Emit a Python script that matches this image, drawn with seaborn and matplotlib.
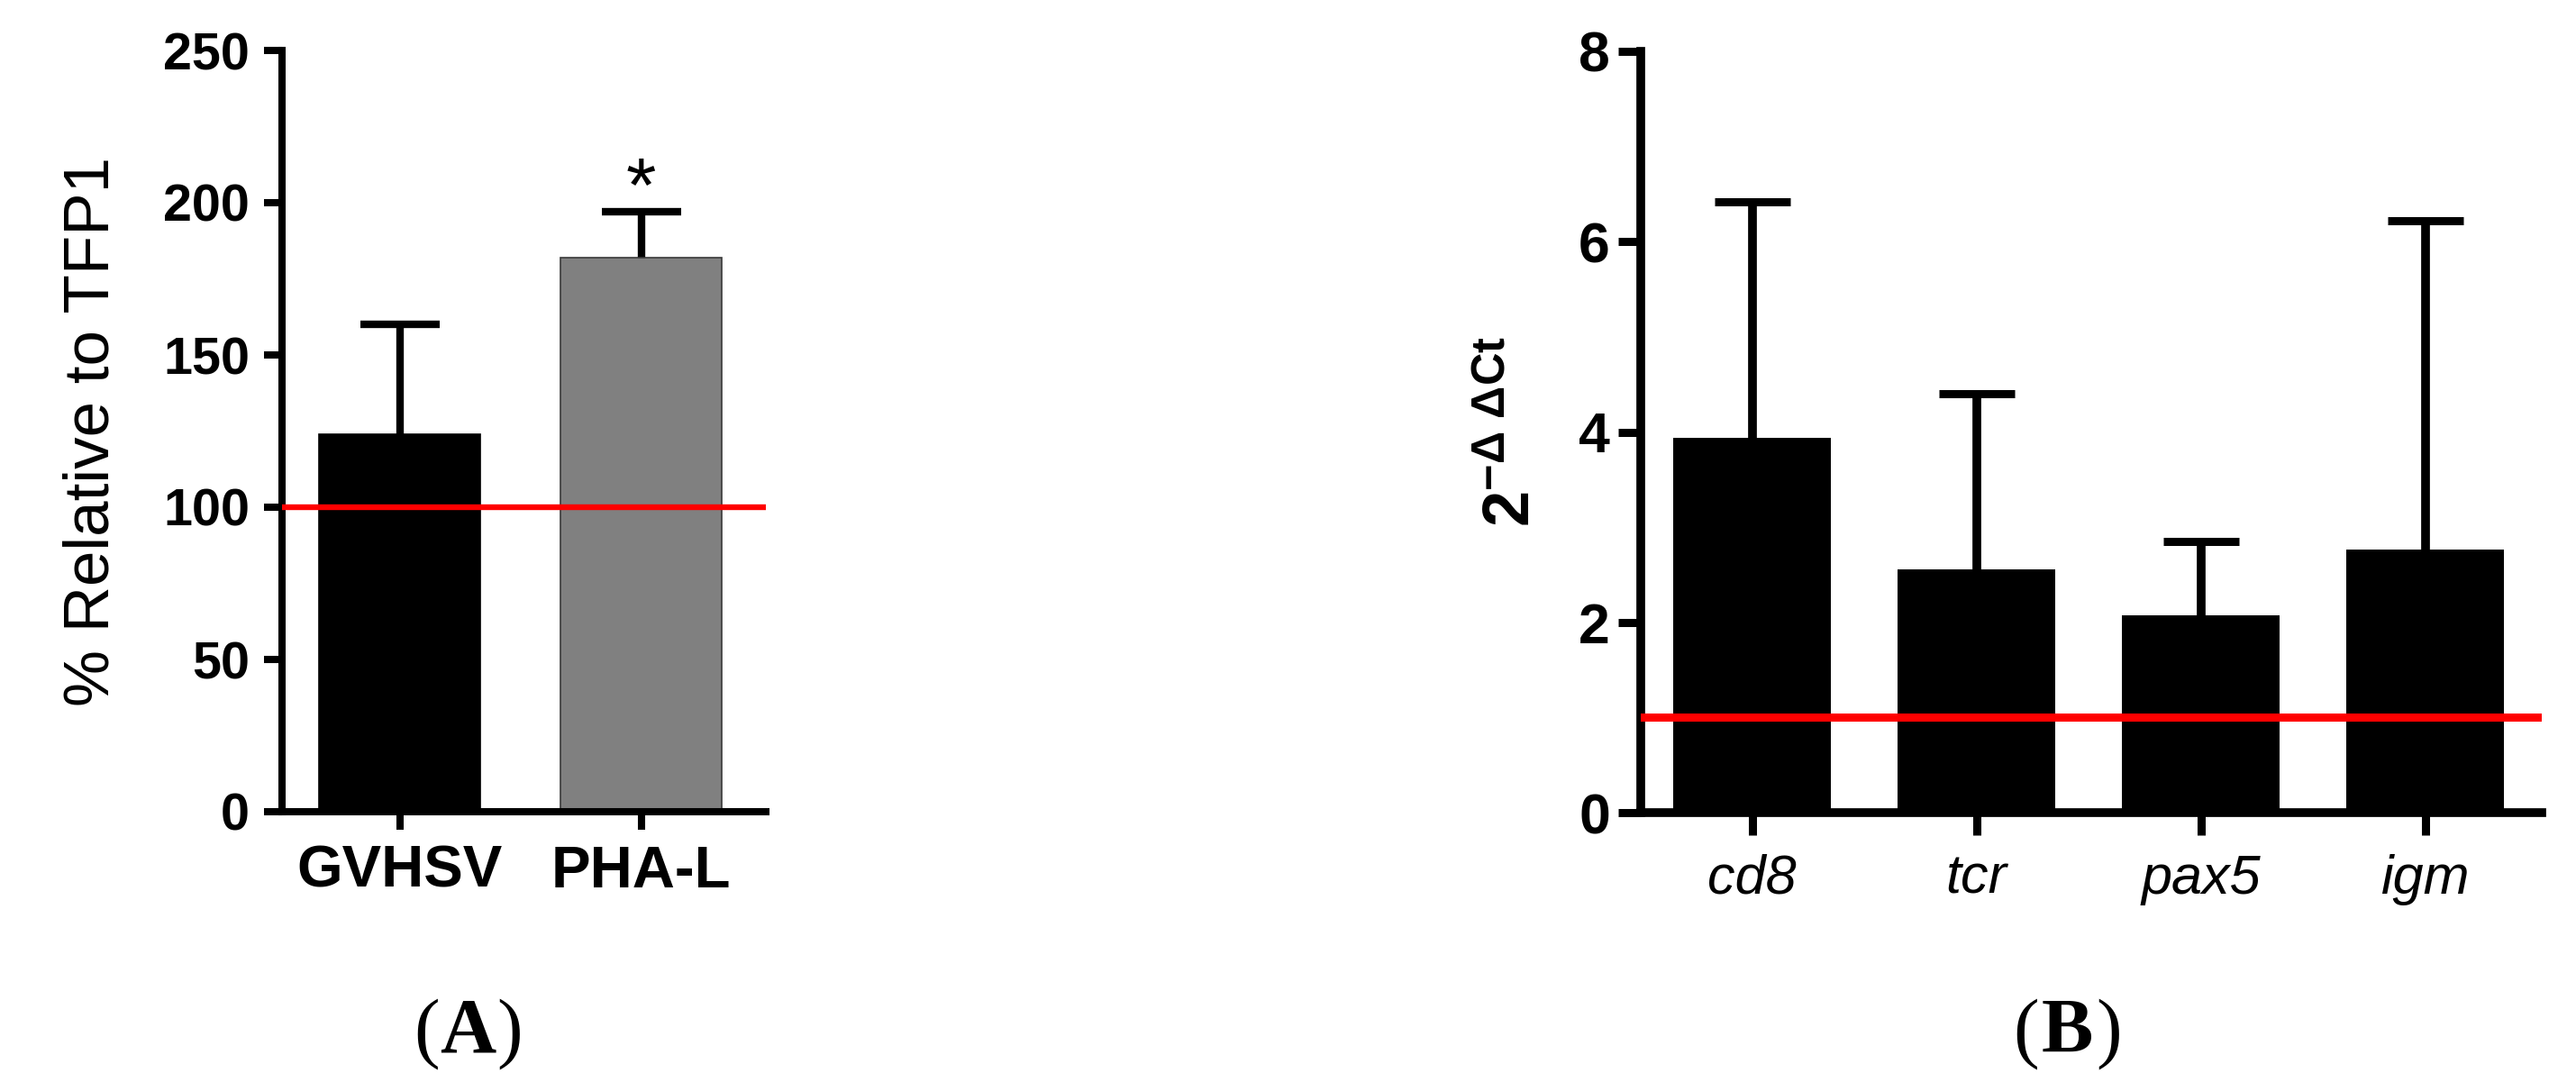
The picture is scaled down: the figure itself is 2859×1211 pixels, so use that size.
import matplotlib
matplotlib.use('Agg')
import matplotlib.pyplot as plt
import seaborn as sns
import pandas as pd
import numpy as np

# ---------------- Data ----------------
# Panel A
cats_a = ['GVHSV', 'PHA-L']
means_a = [124, 182]
err_a = [36, 15]
colors_a = ['#000000', '#808080']
edges_a = ['#000000', '#3a3a3a']
ref_a = 100
yticks_a = [0, 50, 100, 150, 200, 250]

# Panel B
cats_b = ['cd8', 'tcr', 'pax5', 'igm']
means_b = [3.94, 2.56, 2.07, 2.76]
err_b = [2.48, 1.84, 0.78, 3.46]
colors_b = ['#000000', '#000000', '#000000', '#000000']
ref_b = 1
yticks_b = [0, 2, 4, 6, 8]

# ---------------- Style ----------------
sns.set_style('ticks')
plt.rcParams['font.family'] = ['Liberation Sans', 'DejaVu Sans']
plt.rcParams['mathtext.fontset'] = 'custom'
plt.rcParams['mathtext.rm'] = 'Liberation Sans'
plt.rcParams['mathtext.bf'] = 'Liberation Sans:bold'
plt.rcParams['mathtext.it'] = 'Liberation Sans:italic'
for k in ['text.color', 'axes.labelcolor', 'xtick.color', 'ytick.color', 'axes.edgecolor']:
    plt.rcParams[k] = 'black'

W, H = 2859, 1211
fig = plt.figure(figsize=(W / 100, H / 100), dpi=100)
fig.patch.set_facecolor('white')

axA = fig.add_axes([313 / W, (H - 901) / H, (850 - 313) / W, (901 - 56) / H])
axB = fig.add_axes([1821 / W, (H - 902) / H, (2821 - 1821) / W, (902 - 57) / H])


def upper_errorbars(ax, means, errs, lw, capsize, capthick):
    cont = ax.errorbar(np.arange(len(means)), means,
                       yerr=[np.zeros(len(errs)), errs],
                       fmt='none', ecolor='black', elinewidth=lw,
                       capsize=capsize, capthick=capthick, zorder=1)
    caps = cont[1]
    # keep only the upper caps
    caps[0].remove()


# ---------------- Panel A ----------------
dfA = pd.DataFrame({'cat': cats_a, 'val': means_a})
sns.barplot(data=dfA, x='cat', y='val', hue='cat', palette=colors_a,
            width=0.668, errorbar=None, legend=False, ax=axA,
            saturation=1, linewidth=1.2)
for p, ec in zip(axA.patches, edges_a):
    p.set_edgecolor(ec)
    p.set_zorder(2)
upper_errorbars(axA, means_a, err_a, 6, 32, 6)
axA.axhline(ref_a, color='#ff0000', lw=4.6, zorder=4)
axA.text(1, 197, '*', ha='center', va='baseline', fontsize=62, color='black')

axA.set_ylim(0, 250)
axA.set_xlim(-0.488, 1.516)
axA.set_yticks(yticks_a)
axA.set_xlabel('')
axA.set_ylabel('% Relative to TFP1', fontsize=51, color='black')
axA.yaxis.set_label_coords(-0.331, 0.5)
axA.tick_params(axis='both', direction='out', length=14.4, width=5.8,
                color='black', labelcolor='black')
axA.tick_params(axis='y', labelsize=41.4, pad=11.5)
axA.tick_params(axis='x', labelsize=47, pad=12)
for lbl in axA.get_xticklabels() + axA.get_yticklabels():
    lbl.set_fontweight('bold')
sns.despine(ax=axA)
for s in ['left', 'bottom']:
    axA.spines[s].set_linewidth(5.8)
    axA.spines[s].set_color('black')

# ---------------- Panel B ----------------
dfB = pd.DataFrame({'cat': cats_b, 'val': means_b})
sns.barplot(data=dfB, x='cat', y='val', hue='cat', palette=colors_b,
            width=0.70, errorbar=None, legend=False, ax=axB,
            saturation=1, linewidth=0)
for p in axB.patches:
    p.set_zorder(2)
upper_errorbars(axB, means_b, err_b, 7, 30, 6.5)
axB.axhline(ref_b, color='#ff0000', lw=6.5, zorder=4)

axB.set_ylim(0, 8)
axB.set_xlim(-0.496, 3.52)
axB.set_yticks(yticks_b)
axB.set_xlabel('')
axB.set_ylabel(r'$\mathbf{2^{-\Delta\ \Delta Ct}}$', fontsize=52, color='black')
axB.yaxis.set_label_coords(-0.109, 0.5)
axB.tick_params(axis='both', direction='out', length=18, width=6.5,
                color='black', labelcolor='black')
axB.tick_params(axis='y', labelsize=45, pad=6.5)
axB.tick_params(axis='x', labelsize=44, pad=15)
for lbl in axB.get_yticklabels():
    lbl.set_fontweight('bold')
for lbl in axB.get_xticklabels():
    lbl.set_fontstyle('italic')
sns.despine(ax=axB)
for s in ['left', 'bottom']:
    axB.spines[s].set_linewidth(7)
    axB.spines[s].set_color('black')

# ---------------- Panel labels ----------------
serif = ['Liberation Serif', 'DejaVu Serif']
yb = (H - 1168) / H
for cx, letter in [(519, 'A'), (2294, 'B')]:
    fig.text((cx - 31) / W, yb, '(', ha='right', va='baseline', fontsize=62, family=serif)
    fig.text(cx / W, yb, letter, ha='center', va='baseline', fontsize=62,
             family=serif, fontweight='bold')
    fig.text((cx + 32) / W, yb, ')', ha='left', va='baseline', fontsize=62, family=serif)

fig.savefig('out.png', dpi=100, facecolor='white')
